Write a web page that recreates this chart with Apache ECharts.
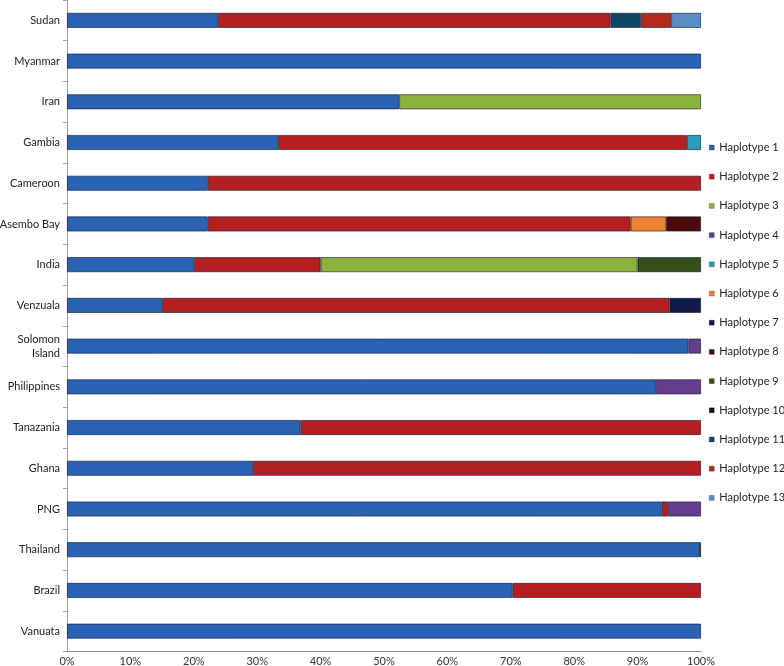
<!DOCTYPE html>
<html>
<head>
<meta charset="utf-8">
<script src="https://cdn.jsdelivr.net/npm/echarts@6/dist/echarts.min.js"></script>
<style>html,body{margin:0;padding:0;background:#fff;}#c{width:784px;height:666px;}</style>
</head>
<body>
<div id="c"></div>
<script>
const categories = ['Sudan','Myanmar','Iran','Gambia','Cameroon','Asembo Bay','India','Venzuala','Solomon\nIsland','Philippines','Tanazania','Ghana','PNG','Thailand','Brazil','Vanuata'];
const xTicks = [0,10,20,30,40,50,60,70,80,90,100];
// values (%) per haplotype, in category order
const hap1  = [23.8,100,52.4,33.3,22.2,22.2,20,15,98,92.9,36.8,29.3,93.8,99.7,70.3,100];
const hap2  = [61.9,0,0,64.5,77.8,66.7,20,80,0,0,63.2,70.7,1.0,0,29.7,0];
const hap3  = [0,0,47.6,0,0,0,50,0,0,0,0,0,0,0,0,0];
const hap4  = [0,0,0,0,0,0,0,0,2,7.1,0,0,5.2,0,0,0];
const hap5  = [0,0,0,2.2,0,0,0,0,0,0,0,0,0,0,0,0];
const hap6  = [0,0,0,0,0,5.6,0,0,0,0,0,0,0,0,0,0];
const hap7  = [0,0,0,0,0,0,0,5,0,0,0,0,0,0,0,0];
const hap8  = [0,0,0,0,0,5.5,0,0,0,0,0,0,0,0,0,0];
const hap9  = [0,0,0,0,0,0,10,0,0,0,0,0,0,0,0,0];
const hap10 = [0,0,0,0,0,0,0,0,0,0,0,0,0,0.3,0,0];
const hap11 = [4.8,0,0,0,0,0,0,0,0,0,0,0,0,0,0,0];
const hap12 = [4.8,0,0,0,0,0,0,0,0,0,0,0,0,0,0,0];
const hap13 = [4.7,0,0,0,0,0,0,0,0,0,0,0,0,0,0,0];
const seriesNames = ['Haplotype 1','Haplotype 2','Haplotype 3','Haplotype 4','Haplotype 5','Haplotype 6','Haplotype 7','Haplotype 8','Haplotype 9','Haplotype 10','Haplotype 11','Haplotype 12','Haplotype 13'];
const seriesValues = [hap1,hap2,hap3,hap4,hap5,hap6,hap7,hap8,hap9,hap10,hap11,hap12,hap13];
const colors = ['#2A62B4','#B41F22','#8CB43C','#653D8C','#2C9DB8','#EE8430','#101B4B','#4A0B0B','#37501A','#111111','#0D4866','#B42A1C','#5A8CC6'];

const chart = echarts.init(document.getElementById('c'));
const FONT = 'Lato';
chart.setOption({
  animation: false,
  color: colors,
  textStyle: {fontFamily: FONT},
  grid: {left: 67, right: 83, top: 0, bottom: 14.5, containLabel: false, outerBoundsMode: 'none'},
  legend: {
    orient: 'vertical',
    left: 709,
    top: 142,
    padding: 0,
    itemWidth: 5,
    itemHeight: 5,
    itemGap: 18.2,
    icon: 'rect',
    data: seriesNames,
    textStyle: {fontSize: 11, color: '#222', fontFamily: FONT},
    itemStyle: {borderColor: 'rgba(0,0,0,0.45)', borderWidth: 0.5}
  },
  xAxis: {
    type: 'value',
    min: xTicks[0],
    max: xTicks[xTicks.length-1],
    interval: 10,
    axisLine: {show: true, lineStyle: {color: '#8a8a8a', width: 1}},
    axisTick: {show: false},
    splitLine: {show: false},
    axisLabel: {formatter: '{value}%', fontSize: 11, color: '#333', margin: 4, fontFamily: FONT}
  },
  yAxis: {
    type: 'category',
    inverse: true,
    data: categories,
    axisLine: {show: true, lineStyle: {color: '#a0a0a0', width: 1}},
    axisTick: {show: true, length: 4, lineStyle: {color: '#a0a0a0'}},
    axisLabel: {fontSize: 11, color: '#222', margin: 7, lineHeight: 14, fontFamily: FONT}
  },
  series: seriesValues.map((vals, i) => ({
    name: seriesNames[i],
    type: 'bar',
    stack: 'total',
    barWidth: 15,
    itemStyle: {borderColor: 'rgba(10,20,45,0.75)', borderWidth: 0.8},
    data: vals.map(v => v === 0 ? '-' : v)
  }))
});
</script>
</body>
</html>
